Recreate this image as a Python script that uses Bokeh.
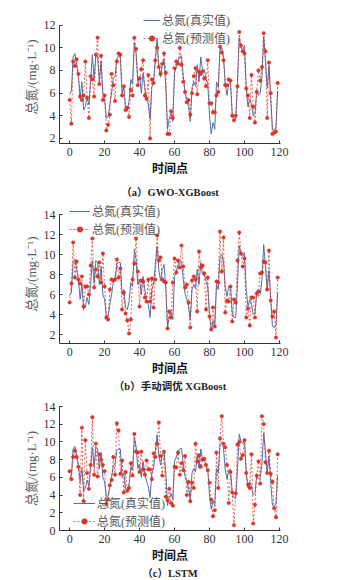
from bokeh.plotting import figure
from bokeh.models import Legend, LegendItem, FixedTicker, Range1d, Title
from bokeh.layouts import column
from bokeh.embed import file_html
from bokeh.resources import INLINE

# ---------------- data ----------------
time_points = list(range(120))
x_ticks = [0, 20, 40, 60, 80, 100, 120]

true_tn = [
    5.9, 6.2, 9.2, 9.5, 8.5, 7.5, 5.5, 7.0, 4.5, 4.8,
    5.7, 5.0, 7.0, 9.4, 7.2, 9.4, 9.2, 7.0, 8.8, 6.0,
    5.5, 3.8, 3.9, 5.0, 6.0, 7.3, 7.5, 9.0, 9.2, 9.2,
    6.0, 6.5, 4.7, 4.5, 5.3, 7.2, 6.8, 10.5, 9.5, 7.0,
    7.5, 6.0, 7.8, 6.5, 5.5, 5.0, 3.7, 6.5, 7.0, 9.0,
    10.8, 8.5, 7.4, 8.5, 9.0, 6.5, 2.8, 3.8, 4.2, 3.5,
    7.8, 8.3, 8.9, 9.2, 9.3, 7.5, 6.1, 5.5, 4.8, 3.5,
    6.5, 7.0, 6.6, 8.5, 7.0, 9.2, 8.0, 8.1, 7.3, 6.8,
    4.0, 2.4, 3.4, 2.8, 7.0, 6.5, 9.8, 10.0, 9.3, 6.8,
    5.8, 6.8, 6.9, 4.2, 3.7, 3.7, 7.0, 10.9, 10.0, 9.8,
    10.2, 6.5, 4.8, 5.5, 5.0, 4.0, 4.2, 6.3, 5.8, 6.0,
    7.5, 11.0, 8.8, 6.5, 8.4, 5.5, 2.8, 2.7, 3.0, 6.2,
]

pred_gwo = [
    5.4, 3.3, 8.8, 8.4, 9.0, 7.7, 5.7, 5.4, 5.8, 8.8,
    5.6, 3.8, 7.5, 7.2, 5.7, 9.4, 10.9, 6.8, 9.3, 5.4,
    5.8, 2.7, 3.2, 4.1, 7.7, 6.7, 5.3, 8.8, 9.5, 9.4,
    5.8, 6.6, 4.5, 4.7, 3.9, 6.3, 5.8, 10.9, 9.9, 6.7,
    7.3, 8.1, 8.9, 5.8, 5.5, 7.6, 2.0, 7.2, 6.9, 8.9,
    10.0, 8.3, 7.7, 8.6, 9.5, 7.8, 2.4, 2.4, 4.4, 3.8,
    8.2, 8.8, 8.6, 10.0, 8.5, 7.0, 6.1, 5.2, 5.4, 4.1,
    6.0, 7.5, 8.2, 5.9, 7.9, 7.7, 7.9, 7.3, 6.6, 8.9,
    5.1, 5.1, 4.3, 4.3, 5.8, 6.1, 10.1, 9.6, 8.9, 6.7,
    6.7, 7.2, 7.1, 4.0, 3.6, 4.0, 6.6, 11.4, 10.2, 9.7,
    9.5, 6.4, 5.8, 3.8, 7.6, 4.8, 3.4, 6.1, 8.0, 7.1,
    8.3, 11.3, 9.7, 3.8, 8.7, 6.0, 2.4, 2.5, 2.6, 6.9,
]

pred_manual = [
    5.2, 7.1, 11.2, 7.7, 9.3, 7.5, 7.1, 7.8, 4.8, 6.8,
    6.8, 6.0, 8.9, 11.6, 6.7, 8.5, 7.8, 9.2, 7.2, 10.1,
    6.8, 3.7, 3.5, 6.5, 7.5, 7.4, 7.5, 9.5, 7.7, 8.6,
    4.5, 6.2, 4.1, 3.4, 2.1, 3.5, 7.5, 9.1, 11.6, 8.3,
    4.8, 7.4, 7.3, 5.7, 5.3, 7.5, 5.3, 7.6, 4.7, 7.5,
    11.9, 9.4, 9.7, 7.5, 7.3, 7.2, 2.6, 4.3, 3.7, 7.2,
    9.6, 8.2, 9.4, 8.7, 10.9, 8.8, 6.7, 7.0, 5.2, 2.7,
    7.4, 7.8, 7.5, 4.3, 10.3, 8.7, 8.9, 8.1, 4.5, 7.7,
    3.8, 2.5, 4.7, 2.8, 7.3, 7.2, 12.3, 8.3, 11.7, 4.2,
    5.4, 5.3, 6.8, 3.3, 5.5, 5.2, 9.4, 12.2, 10.1, 8.8,
    9.6, 3.7, 4.6, 2.9, 5.7, 5.7, 3.7, 6.1, 6.3, 8.1,
    8.2, 9.3, 9.2, 6.5, 10.4, 5.4, 3.8, 4.3, 1.7, 7.7,
]

pred_lstm = [
    6.7, 5.8, 8.3, 9.0, 8.3, 7.2, 4.0, 11.6, 3.3, 10.2,
    6.5, 4.7, 7.4, 12.8, 6.3, 9.8, 6.1, 8.6, 8.0, 7.4,
    6.7, 3.0, 3.5, 5.1, 5.7, 8.3, 6.3, 12.1, 11.3, 6.4,
    7.9, 4.3, 6.6, 4.5, 4.8, 7.6, 6.2, 10.9, 8.9, 8.8,
    6.6, 8.9, 6.9, 6.3, 7.9, 6.9, 6.9, 5.8, 8.7, 8.3,
    9.8, 12.2, 8.4, 6.2, 8.9, 3.8, 3.4, 4.7, 3.1, 2.8,
    7.2, 7.1, 8.8, 6.3, 7.6, 6.8, 8.4, 4.0, 5.5, 3.3,
    5.4, 4.8, 9.8, 7.8, 8.5, 7.2, 8.0, 8.1, 7.4, 6.8,
    5.4, 3.5, 1.6, 2.3, 8.8, 4.8, 10.4, 12.9, 9.8, 9.4,
    7.4, 3.1, 6.6, 4.3, 0.6, 4.2, 9.7, 10.0, 8.1, 8.5,
    10.2, 6.5, 5.2, 4.8, 8.6, 0.8, 2.9, 6.2, 7.8, 5.3,
    12.9, 12.0, 7.7, 6.5, 9.0, 6.4, 5.5, 2.5, 1.5, 8.6,
]

label_true = "总氮(真实值)"
label_pred = "总氮(预测值)"
y_label = "总氮/(mg·L⁻¹)"
x_label = "时间点"

# ---------------- styling ----------------
FONT = "'Liberation Serif', 'Noto Sans CJK SC'"
BLUE = "#4f70a6"
RED = "#d8352b"


def make_panel(pred, ylo, yhi, ytop, yticks, caption, legend_xy, glyph_w,
               frame_h, top, bottom, cap_standoff):
    p = figure(title=None, frame_width=221, frame_height=frame_h,
               output_backend="svg", toolbar_location=None,
               x_range=Range1d(-5.8, 120.6), y_range=Range1d(ylo, ytop),
               min_border_left=59, min_border_right=22,
               min_border_top=top, min_border_bottom=bottom)
    p.outline_line_color = None
    p.xgrid.visible = False
    p.ygrid.visible = False
    p.background_fill_color = "white"
    p.border_fill_color = "white"

    for ax in (p.xaxis[0], p.yaxis[0]):
        ax.axis_line_color = "#333333"
        ax.major_tick_line_color = "#333333"
        ax.major_tick_in = 3
        ax.major_tick_out = 0
        ax.minor_tick_line_color = None
        ax.major_label_text_font = FONT
        ax.major_label_text_font_size = "12px"
        ax.major_label_text_color = "#333333"
        ax.major_label_standoff = 4
        ax.axis_label_text_font = FONT

    p.yaxis[0].bounds = (ylo, yhi)
    p.xaxis[0].ticker = FixedTicker(ticks=x_ticks)
    p.yaxis[0].ticker = FixedTicker(ticks=yticks)
    p.xaxis[0].axis_label = x_label
    p.xaxis[0].axis_label_text_font_size = "12px"
    p.xaxis[0].axis_label_text_font_style = "bold"
    p.xaxis[0].axis_label_text_color = "#111111"
    p.xaxis[0].axis_label_standoff = 3
    p.xaxis[0].axis_label_text_line_height = 1.0
    p.yaxis[0].axis_label = y_label
    p.yaxis[0].axis_label_text_font_size = "13px"
    p.yaxis[0].axis_label_text_font_style = "normal"
    p.yaxis[0].axis_label_text_color = "#5a5a5a"
    p.yaxis[0].axis_label_standoff = 2

    l_true = p.line(time_points, true_tn, line_color=BLUE, line_width=1)
    l_pred = p.line(time_points, pred, line_color=RED, line_width=0.8,
                    line_dash="2 2")
    s_pred = p.scatter(time_points, pred, size=3.5, fill_color=RED,
                       line_color=RED, line_width=0.5, marker="circle")

    legend = Legend(items=[LegendItem(label=label_true, renderers=[l_true]),
                           LegendItem(label=label_pred, renderers=[l_pred, s_pred])],
                    location=legend_xy)
    legend.background_fill_alpha = 0
    legend.border_line_color = None
    legend.padding = 0
    legend.margin = 0
    legend.spacing = 0
    legend.glyph_width = glyph_w
    legend.glyph_height = 14
    legend.label_height = 14
    legend.label_standoff = 2
    legend.label_text_font = FONT
    legend.label_text_font_size = "12px"
    legend.label_text_line_height = 1.0
    legend.label_text_color = "#555555"
    p.add_layout(legend)

    t = Title(text=caption, align="center", text_font=FONT,
              text_font_size="10.5px", text_font_style="bold",
              text_line_height=1.0,
              text_color="#222222", standoff=cap_standoff, offset=0)
    p.add_layout(t, "below")
    return p


pa = make_panel(pred_gwo, 1.55, 12, 13.3, [2, 4, 6, 8, 10, 12], "（a）GWO-XGBoost",
                (84, 96), 17, 133, 10, 55, 12)
pb = make_panel(pred_manual, 1.1, 14, 15.0, [2, 4, 6, 8, 10, 12, 14], "（b）手动调优 XGBoost",
                (10, 105), 21, 139, 1, 47, 1)
pc = make_panel(pred_lstm, 0, 14, 14, [0, 2, 4, 6, 8, 10, 12, 14], "（c）LSTM",
                (14, 0), 22, 124, 14, 44, 1)

layout = column(pa, pb, pc, spacing=0)
open("out.html", "w").write(file_html(layout, INLINE))
